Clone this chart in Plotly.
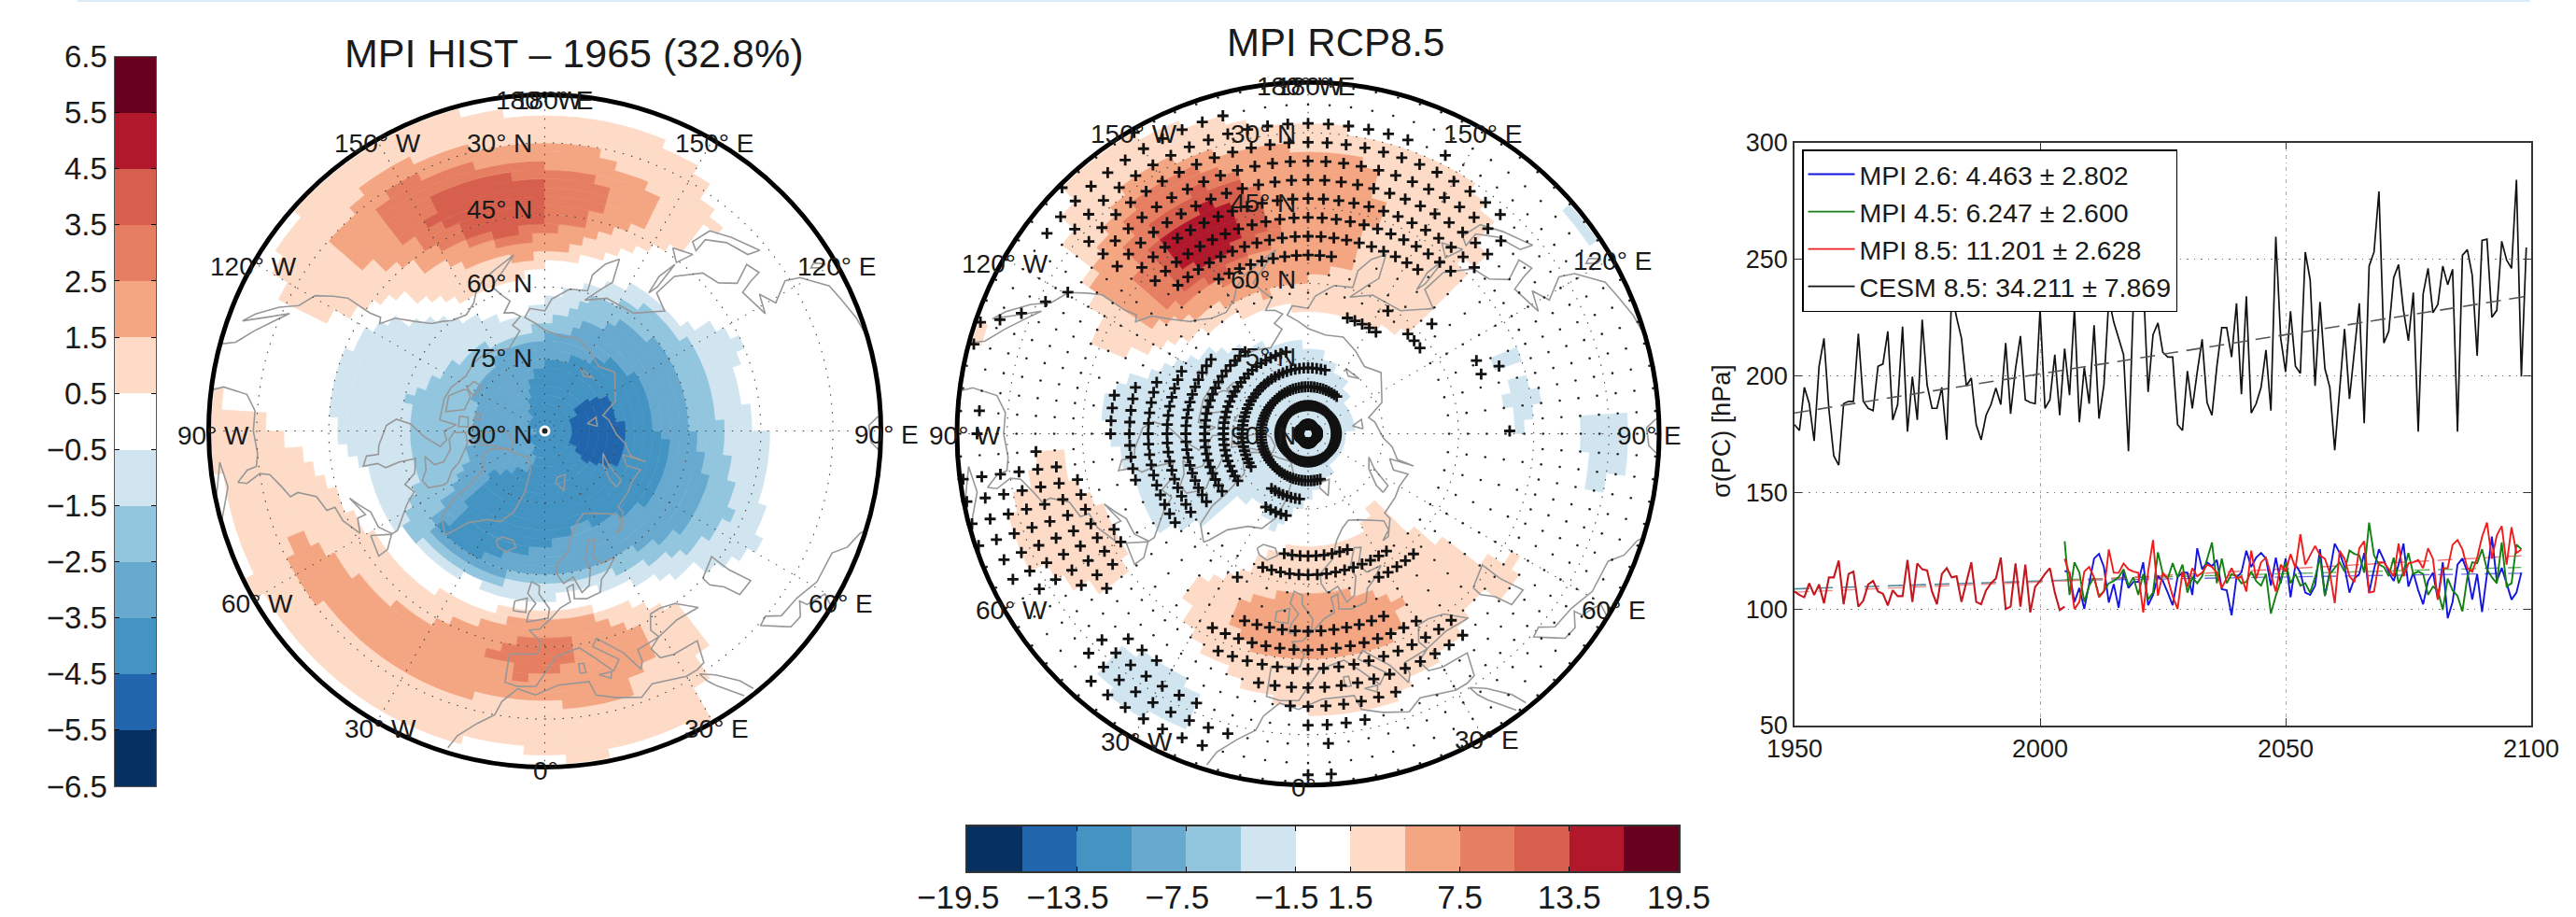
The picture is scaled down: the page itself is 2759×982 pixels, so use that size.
import numpy as np
import plotly.graph_objects as go

W, H = 2759, 982
FONT = "Liberation Sans"

# ---------- colour bands ----------
band_colors = ["#053061", "#2166ac", "#4393c3", "#67a9cf", "#92c5de", "#d1e5f0", "#ffffff",
               "#fddbc7", "#f4a582", "#e67f62", "#d6604d", "#b2182b", "#67001f"]
band_mid_left = [-6, -5, -4, -3, -2, -1, 0, 1, 2, 3, 4, 5, 6]
band_edge_left = [-6.5, -5.5, -4.5, -3.5, -2.5, -1.5, -0.5, 0.5, 1.5, 2.5, 3.5, 4.5, 5.5, 6.5]
band_mid_right = [-18, -15, -12, -9, -6, -3, 0, 3, 6, 9, 12, 15, 18]
band_tick_right = [-19.5, -13.5, -7.5, -1.5, 1.5, 7.5, 13.5, 19.5]
band_text_right = ["\u221219.5\u00a0\u00a0", "\u221213.5\u00a0\u00a0", "\u22127.5\u00a0\u00a0", "\u22121.5\u00a0\u00a0", "1.5", "7.5", "13.5", "19.5"]

# ---------- left map: contour regions as (lon, lat) ----------
h_p1_pacific = [(-121,24),(-135,20),(-150,20),(-162,21),(180,24),(162.7,24),(151,27),(143,31.7),(140,35),(144,42.5),
                (157.6,50),(180,54.7),(-166,58.7),(-149,57.8),(-132.5,49),(-123,43),(-116.4,38),(-115.6,32.5),(-118.7,26.7)]
h_p2_pacific = [(-132,31),(-143.8,26.6),(-151.4,27),(-164.3,29),(180,29.3),(171.6,29.6),(163.7,33),(155.8,35.4),(154,42),
                (165.4,48),(180,53.3),(-161.2,52.7),(-143,47.4),(-132.6,39.2)]
h_p3_pacific = [(-143.4,32),(-149.7,30.2),(-159.8,31.6),(-172.4,33.4),(173.7,35),(166.3,38),(164.8,42.7),(174,47.7),
                (-171.8,50.2),(-156.7,48),(-144,41.8),(-141,34.8)]
h_p4_pacific = [(-152.7,36),(-164.4,35),(-177.7,37),(178.2,41),(179,45.6),(-172,48.4),(-158,46),(-151.5,40)]
h_p1_atlantic = [(-93.7,20.4),(-93.8,29),(-87.6,36.2),(-71.9,45),(-53.2,48.4),(-35.8,49.2),(-19.4,51),(0,52),(22.4,50.3),
                 (38.9,43),(38.9,37),(30.2,26.6),(28,21.2),(7.3,20.6),(-6.5,24),(-17.5,23),(-29.4,23),(-40.5,23),(-49.3,23),
                 (-62,21),(-88,20)]
h_p1_corner = [(-99,20),(-99,23),(-94,23.5),(-94,20)]
h_p2_atlantic = [(-66.9,31.1),(-67.5,34.3),(-61.8,37.3),(-54.3,39.5),(-42.6,41.4),(-28.6,44),(-17,48.8),(-3,50),(15.4,50),
                 (26,43),(24.7,38.6),(18.6,34),(17.8,31.5),(9.7,32.6),(7.7,31),(3.4,33.3),(-7.6,33.4),(-19.4,32),(-36,31),
                 (-49.2,31),(-59.2,30.4)]
h_p3_atlantic = [(-16.9,40.8),(-11.9,44.9),(0,47),(9,45.3),(8.5,42.8),(4.4,40.5),(3.2,38.6),(-7.3,38.2),(-8.9,41.4)]
h_n1 = [(0,55.1),(17.8,55.3),(38.6,51.2),(52.5,44.7),(62.8,39.4),(66.4,41.4),(78.3,43),(87,43),(99.6,49.4),(111.6,47),
        (115.2,44),(122.3,48.5),(127.7,53.8),(138.8,53.3),(152,55.7),(166.7,59.7),(-177,63),(-166,66),(-147.4,62.6),
        (-132,55.5),(-122.3,48.4),(-112.2,45.7),(-101,45),(-91.8,46.2),(-80.3,49.8),(-75,53),(-61.8,52.7),(-54,54),
        (-41.7,54.2),(-28.6,55.4),(-15.4,54.8)]
h_n2 = [(0,57.8),(19.2,57.8),(37.9,55),(52.6,50.4),(65.5,47.5),(75,49.5),(90,53.1),(106.8,53.9),(121.7,54.7),(140.3,56.4),
        (159,60.4),(176,66.8),(-159,69),(-133.7,67),(-117,65.3),(-103.5,60.8),(-87,61.6),(-67,61.2),(-54.7,54.7),
        (-39.5,55.4),(-21,56.5)]
h_n3 = [(3,60),(20.4,59.6),(40.6,58.4),(54.6,54.8),(67,54),(78.6,55.6),(90.9,59.5),(104.4,59),(123.7,59.8),(141.2,61.5),
        (158.4,66.2),(180,70.5),(-150.9,70.8),(-117.5,73.3),(-81.5,74.6),(-61.4,70),(-53.7,63.2),(-48.2,58),(-32.3,57.3),
        (-15.7,59)]
h_n4 = [(-47.2,60),(-46.2,65.8),(-52.3,76),(-15,82),(-48,86.6),(-153,82.4),(-163,78.2),(174,75),(140.3,70.6),(120,67.3),
        (102.6,67),(91,67.6),(87,64),(71.7,62.6),(55,63.8),(42,66.2),(16.6,68.7),(3.8,66.8),(-10.5,63.7),(-32.7,59.3)]
h_n5 = [(95,84.8),(132,80.6),(120,75.6),(100.5,75.1),(97.6,73),(79.4,72.8),(63,74),(52.3,79),(56,82.7)]

# ---------- right map: contour regions as (lon, lat) ----------
r_p1_pacific = [(-135.9,20.6),(-141.6,20),(-149.5,21.6),(-162,24.3),(-174.6,28),(172.7,28.8),(160.8,30.5),(148.3,30.4),
                (140.5,33.6),(136,39.6),(137,44),(133.6,50.5),(133.4,55.6),(136.3,61.7),(146,64.8),(164,65),(174.5,65.4),
                (-167,64),(-147.4,62.5),(-128,59.7),(-115,51.6),(-111.6,44.4),(-118.7,42.7),(-124.4,37),(-128,29.7)]
r_p2_pacific = [(-139.7,29.4),(-146,27.7),(-156.8,29.4),(-172.4,32.4),(178.5,33),(167,35),(161.8,43.2),(165,49.6),(165.7,55),
                (179,58.7),(-165,61),(-150.6,59.8),(-131.5,55.7),(-123.7,51.5),(-124.2,44.7),(-125.7,37),(-133.5,33.4)]
r_p3_pacific = [(-141,32.7),(-146.3,30.6),(-156.6,32.2),(-165,36),(-169.6,43),(-171.7,49.7),(-165.6,52),(-158,55.2),(-143,54.8),
                (-132.8,52.5),(-132.3,45.5),(-135.8,38)]
r_p4_pacific = [(-143.9,37),(-155.7,36),(-163.3,38.4),(-168.3,43.7),(-168,49),(-159.3,53),(-147.9,53.5),(-137.6,52),(-137.9,43.6)]
r_p5_pacific = [(-145.2,40.2),(-158.2,40),(-163,45.4),(-161.7,48.5),(-155,50.5),(-146.7,49.8),(-143.3,47),(-143.3,42.5)]
r_p1_europe = [(-35.6,49),(-36,53.2),(-25.7,60),(-13.9,66),(17.6,67.3),(29,68.4),(47.4,71.4),(44.6,64.7),(50.3,57.5),(51.3,51),
               (58.5,41.6),(52.5,37.4),(47,42.3),(40.9,42.2),(37.6,38.7),(21.8,37.4),(18.3,33.4),(5,33),(-6.2,36.4),(-13.5,38),
               (-19.5,40),(-26.5,42.6),(-32.2,45)]
r_p2_europe = [(-23,49.8),(-21.6,54.6),(-3.9,58.3),(18.4,56.7),(28.6,52),(25.4,47.6),(19.5,45),(1.8,44.4),(-9.7,45),(-17.4,46.5)]
r_p1_atlantic = [(-84.4,35),(-87,39.3),(-79,42.7),(-69.6,46.2),(-55,46),(-51.8,39),(-58.4,33),(-66,28),(-71.5,27.6),(-77.6,31.3)]
r_p1_corner = [(-104,21),(-106,22.5),(-108,22),(-106,20.5)]
r_n1_arctic = [(-98.9,48.4),(-107.5,53.6),(-119.5,60.5),(-139.4,67.2),(-170.4,71.6),(175,72.6),(147.9,77),(96.5,81.3),(57,81.8),
               (13.4,80),(-5,75.6),(-21.9,69.6),(-35,73.6),(-49.7,70.5),(-49.6,62.2),(-56.8,54),(-71.9,55.3),(-86,51.5)]
r_n1_atlantic = [(-40.6,27),(-40.4,33.6),(-33,36.2),(-24,33.6),(-20.7,30),(-23.6,26),(-30.5,25),(-36.9,24.5)]
r_n1_asia_a = [(112,51.4),(112.3,44.4),(108.8,44.7),(108.5,48.4)]
r_n1_asia_b = [(102,51),(105.7,46.2),(101,42.4),(96.7,43),(94.8,46),(89,46),(89,48),(95,48),(98.9,51.4)]
r_n1_asia_c = [(92,35),(95.2,29.5),(95,26.8),(84.4,26.3),(83,30.2),(80.6,30),(79,33),(86.3,34.6)]
r_n1_pacific = [(130,22),(129,21),(123.5,21),(123.7,23)]

# ---------- right map: where the "+" significance marks sit ----------
plus_top = [(-127.8,25),(-125,20.5),(-134.8,20.6),(-150.2,20),(-161.5,23),(180,27),(165.2,27.7),(153.4,28),(142.5,31),(138.7,31),
            (134.3,34),(134.6,38),(133.9,41.6),(139,49),(154.6,53),(163.7,52.6),(180,56.4),(-164,56),(-154.3,55.8),(-145.9,53.8),
            (-133.9,48),(-131.7,42),(-129,38),(-130.4,31)]
plus_arctic = [(165,75.4),(-161,72),(-139.6,68.5),(-123.4,63.6),(-115.6,60.5),(-110.8,56.7),(-105.5,52.5),(-99,49),(-90,49),
               (-83,52.3),(-69,54.7),(-57,56),(-53,60.7),(-53,69),(-58,75.7),(-58,78),(-90,80),(-140,80),(165,79)]
plus_europe = [(-27,46.4),(-22,50.5),(-3.5,54.3),(23.8,50.5),(32.7,47),(38,43.6),(38.7,38.5),(21.5,36.6),(11,28.3),(3,28),
               (-1.2,31.7),(-6,34.6),(-11.5,38.4),(-21.2,41.6)]
plus_atlantic = [(-83,24),(-83.5,30.5),(-86.8,35.3),(-83.8,40.5),(-72,46),(-56.7,47.3),(-52.3,42),(-52.4,38),(-59.7,25.7),
                 (-64.3,21),(-73.6,20),(-82.5,20)]
plus_south = [(-45.6,25),(-45.6,31.3),(-42.3,35.7),(-30.4,35.6),(-22.9,33),(-14.9,28.8),(-14.7,24.6),(-19.5,24),(-24.4,23.5),
              (-31.4,23.3),(-37,23.2)]
plus_arc_lat = [88.125, 84.375, 80.625, 76.875, 76.875, 73.125, 65.625, 61.875, 58.125, 58.125, 65.625, 61.875]
plus_arc_from = [-180, -180, 142, 165, 325, 330, -14, -21, -28, 25, 146, 126]
plus_arc_to = [180, 180, 375, 300, 355, 345, 22, 35, -23, 42, 163, 137]
plus_single_lon = [-116.7, -120.5, -112.8, -110.3, -108.8, -105, -94, -90, 113.5, 109.5, 109, 90.8, 131.6, 147, 0, 3.9]
plus_single_lat = [31.4, 34.4, 28, 24.5, 21, 21, 24.3, 24, 53.4, 49.6, 53.5, 49.8, 57, 60.8, 22, 22]

# ---------- coastlines as (lon, lat) ----------
coast_america = [(-105,20),(-106,23),(-109,26),(-112.5,29.5),(-114.7,31.5),(-112,27),(-110,23),(-112,25),(-115,29),(-117,32.5),
                 (-120.5,34.5),(-122.5,37.8),(-124,40.5),(-124,46),(-124.7,48.4),(-123,49),(-127,51),(-130,54.5),(-133.5,57.5),
                 (-137,58.8),(-140,60),(-146,60.8),(-151,59.5),(-154,57.5),(-158,56),(-163,54.8),(-170,52.8),(-160,58),(-162,60),
                 (-165,62),(-161,64),(-165,64.5),(-168,65.6),(-163,67),(-166,68.5),(-156.5,71.3),(-148,70.3),(-140,69.6),
                 (-133,69.5),(-125,70),(-115,68.5),(-108,68),(-96,68),(-94,71.5),(-90,69),(-85,69.5),(-81.5,68),(-87,65),(-93,62),
                 (-94.5,59),(-92,57),(-85,55.3),(-82,55),(-82,52.5),(-79,51.5),(-79,54.5),(-77,56),(-78,59),(-78,62.5),(-72,61.5),
                 (-69,58.8),(-65,60),(-62,57.5),(-56,53),(-56,51.7),(-60,50),(-65,50),(-68,48.5),(-71,47),(-65,48.8),(-65,47),
                 (-61,46),(-66,44),(-70,43.5),(-70,41.7),(-74,40.5),(-76,37),(-75.5,35.3),(-78,34),(-81,32),(-81.5,30),(-80,27),
                 (-80.5,25.2),(-82.5,27.5),(-83,29.5),(-85.5,30),(-90,29.3),(-94,29.5),(-97,27.5),(-97.8,22.5),(-97,20)]
coast_baffin = [(-62,66),(-64,63),(-68,62.5),(-72,64),(-78,64.5),(-73,66),(-73,68),(-79,70),(-85,70),(-89,71),(-89,73.5),(-81,73.7),
                (-76,72.7),(-70,71),(-67,69),(-62,67),(-62,66)]
coast_victoria = [(-117,71),(-110,68.7),(-101,69),(-105,72.7),(-114,73),(-118,72),(-117,71)]
coast_banks = [(-125,72),(-119,71.5),(-116,73.5),(-125,74),(-125,72)]
coast_ellesmere = [(-90,76.5),(-78,76.3),(-75,78.5),(-68,80.5),(-62,82),(-70,83),(-85,82.5),(-92,81),(-88,78),(-90,76.5)]
coast_devon = [(-96,75),(-80,74.5),(-80,75.7),(-92,76.3),(-96,75)]
coast_bathurst = [(-105,75.5),(-100,75),(-100,76.5),(-105,76.2),(-105,75.5)]
coast_somerset = [(-100,72),(-93,72),(-93,74),(-100,73.8),(-100,72)]
coast_greenland = [(-44,60),(-50,62),(-53,66),(-54,70),(-58,75),(-68,76),(-72,78),(-65,81),(-50,82.5),(-32,83.5),(-20,81.5),(-18,76.5),
                   (-21,72),(-26,69),(-33,68),(-40,65),(-43,61),(-44,60)]
coast_iceland = [(-24,65),(-22,64),(-18,63.5),(-14,65),(-16,66.3),(-22,66.2),(-24,65)]
coast_newfoundland = [(-59,47.7),(-53,46.7),(-53,49),(-56,51.5),(-59,47.7)]
coast_cuba = [(-84.5,22),(-80,23),(-74.5,20.2),(-78,20),(-84.5,22)]
coast_britain = [(-5.5,50),(1,51),(1.5,53),(-2,56),(-2,57.7),(-5,58.5),(-6,56),(-3,54),(-5,52),(-5.5,50)]
coast_ireland = [(-10,52),(-6,52),(-6,55),(-10,54),(-10,52)]
coast_svalbard = [(12,79),(18,77),(25,80),(15,80),(12,79)]
coast_novaya = [(52,71),(57,71),(62,75),(69,77),(60,76),(53,73),(52,71)]
coast_severnaya = [(95,79),(105,79),(100,81),(95,79)]
coast_siberian = [(137,75),(150,75),(145,76),(137,75)]
coast_sakhalin = [(142,46),(143.5,50),(143,54),(142,52),(142,46)]
coast_honshu = [(130,31.5),(131,34),(136,35.5),(140,38),(140,41),(142,40),(140.5,36),(136,34),(131,32),(130,31.5)]
coast_hokkaido = [(140,42),(145,43.5),(142,45.5),(140,42)]
coast_taiwan = [(120.5,23),(121.5,25),(122,24),(120.8,22),(120.5,23)]
coast_sicily = [(12.5,38),(15.5,38),(15,36.7),(12.5,38)]
coast_sardinia = [(8.3,39),(9.7,39),(9.5,41),(8.3,41),(8.3,39)]
coast_caspian = [(47,45),(53,46.5),(53,42),(54,37),(50,37),(49,40.5),(47,43),(47,45)]
coast_redsea = [(39,21),(38,24),(35,28),(32.5,30),(33,28),(34,26),(37,21)]
coast_gulf = [(58.5,20),(59.8,22.5),(56.5,24.5),(56.3,26.2),(54,24.2),(51.5,24.5),(50.5,26),(48,29.5),(50,30),(52,27.5),(56.5,27),
              (61,25.2),(67,25),(69,22.5),(72,21),(72.8,20)]
coast_bengal = [(86.5,20),(88,22),(91,22.5),(92.5,20.5)]
coast_eurasia = [(-17,21),(-16,24),(-13,27.5),(-10,30),(-9,33),(-6,36),(-2,35),(3,37),(10,37),(11,34),(15,32.5),(20,31),(23,32.8),
                 (30,31),(32.5,31),(34.5,31.5),(36,36),(30,36.3),(27,37),(26,39.5),(29,41),(35,42),(41,41.3),(37,45),(33,46),(30,46),
                 (28,43),(29,41),(26,40.8),(23,40.5),(23,38),(22,36.5),(19.5,41),(14,45.5),(12.5,44),(18,40),(16,38),(12,42),(9,44.3),
                 (3,43),(0,39.5),(-2,36.8),(-6,36.5),(-9,37),(-9,43),(-2,43.5),(-1,46),(-4.5,48.4),(-1.5,48.7),(2,51),(5,53),(8.5,54),
                 (8,57),(10.5,57.5),(10,54.5),(14,54),(19,54.5),(21,57),(24,58),(29,60),(23,60),(21,62),(25,65),(22,65.5),(17.5,62),
                 (18.5,60),(16,56.5),(13,55.5),(11,59),(7,58),(5,60),(5,62),(11,64.5),(15,68),(20,70),(25,71),(31,70),(41,67),(40,65),
                 (35,64),(38,64),(44,66.5),(44,68),(54,68.5),(60,69),(68,68.5),(67,71.5),(73,73),(73,68),(74,71.5),(81,73),(87,75),
                 (100,76.5),(105,77.5),(113,74),(130,71),(140,72.5),(150,71),(160,69.5),(170,70),(180,69),(-175,67.5),(-170,66),
                 (-173,64.3),(-180,65),(177,62.5),(170,60),(163,59.5),(163,56),(160,53),(156.5,51),(155.5,56),(158,58),(163,61.5),
                 (155,59.5),(143,59.3),(135,54.7),(141,53),(140,48),(135,43.5),(130.5,42.5),(127.5,39.5),(129.5,35.5),(126.5,34.5),
                 (126,37),(125,39.7),(121.7,39),(118,38),(122.5,37),(119,35),(122,31),(121,28),(117,23.5),(114,22.5),(110,21),(106,20)]

# ---------- time series ----------
cesm_85 = [179,176.5,195,188,172,204,216,185.6,165.6,161.6,188,189,189,218,189,186,185,204,205,219,181,187.6,221,176,199.6,181,224,196,186,186,
           195,172.5,235.6,225,216,195.6,199,179,172.5,183,187.6,194.7,187.6,214,183.6,203,217,189.6,188.5,188,228.5,186,189.6,209,183,211.6,
           191.6,229,180,203.6,188,221.6,181.6,196,233,223,216,209,167.6,232,232,241,193,217.6,222.6,210,208,208,179,176.5,202,186,201.6,215.6,
           188.5,183,204,220.6,220.6,208,231,192,234,184,188,195,211,185,259.6,216,201.6,227.6,204,201,253,241,195.6,231.6,203,195,168,193.6,220,
           190,209.6,231,179.6,247,253,279,214,219,242,247.6,228,215,235.6,176,235,246,227,230.6,247,239,245.6,176,251.6,254,243,208.5,258,258.5,
           225,228,257.6,249.6,246,284,199.6,255]
mpi_hist = [107.5,106,105,111,106,110.5,102.4,113.5,113.5,120.7,102,115,116,101,103.5,110.5,112,107.5,106.5,101.5,108,105.5,105.5,121,103,
            119.5,117,116.5,107.5,102,115,117.5,113.5,114,103,112,120,103,102,108,111,113,122,100,101,119.5,101,119,98.5,109.5,112,115,117.5,
            107,99.5,101]
mpi_26 = [116.3,115.6,103,109,100,111.6,121.6,123.6,118,102.7,110.7,100.5,116,109,111.6,111.6,120,101.6,106,114,112,107,101.6,113.6,115.6,
          115.6,106,126,117,120,118.3,121,108.5,108,97.3,113.6,115.6,125,118,122,124,121.6,110,122,111,121.6,105,119,115.6,107,106,110,125.6,
          105.6,116,128,124,118,107,113,115,124,107,117,125.6,121,115.6,112,119,128,109.6,115.6,108,102,112,115.6,104,120,96,103,119,121.6,116,
          104,115,98.7,115,131,112,117.6,111,104,107,115.6]
mpi_45 = [129,106,120,115.6,103,110,113.6,105.6,107.6,111,112,113.6,117,110,113.6,106,115,104,107,124.3,115,113,119.6,113.6,119,107,113.6,
          111,114,121.6,128.5,111,121.6,111,115,114,111,111.6,116,112,110,115,98,105.6,112,120,111,115,110,111,107,113.6,122,105.6,115,117.6,
          120,116,125,123.6,123,115.6,137,123,119,118,114,122,111,116,124,115,116,115,106,109.6,108,99.6,113,108,105.6,99,113.6,120,119.6,
          125.6,117,113.6,111,128.5,109.6,111,127.6,125.6]
mpi_85 = [121.5,115,100,103,116,118,113.5,105,107.5,125.5,115.5,115.5,119.5,117,116,115.5,98.5,116,129.5,105.7,115.5,113,105.5,100,116,109.5,
          117.5,114,115.5,119,118,115.5,109,113.5,117.5,113,114,107.5,125,113,120,122,115,107.5,119,116,123.5,117.5,132,119,123,127,123,121.5,
          115.5,102.5,125,121.5,114,111.5,126,129,107,107.5,120,120,117,114,128,114,119.5,120,121,117.5,126,121.5,104,117.5,117.5,127.5,129.5,
          125.5,117.5,116,122,131,137,121.5,131.5,135.5,119,135,124,125.5]
trend_cesm_years = [1950, 2099]
trend_cesm = [184, 234]
trend_hist_years = [1950, 2005]
trend_hist = [108.6, 112.3]
trend_hist85 = [107.2, 112.0]
trend_scen_years = [2005, 2098]
trend_26 = [112.2, 115.3]
trend_45 = [112.6, 117.8]
trend_85 = [112.0, 122.8]
legend_26 = "MPI 2.6: 4.463 \u00b1 2.802"
legend_45 = "MPI 4.5: 6.247 \u00b1 2.600"
legend_85 = "MPI 8.5: 11.201 \u00b1 2.628"
legend_cesm = "CESM 8.5: 34.211 \u00b1 7.869"

# ---------- map text ----------
title_left = "MPI HIST \u2013 1965 (32.8%)"
title_right = "MPI RCP8.5"
lon_labels = ["180\u00b0 W", "180\u00b0 E", "150\u00b0 W", "150\u00b0 E", "120\u00b0 W", "120\u00b0 E", "90\u00b0 W", "90\u00b0 E",
              "60\u00b0 W", "60\u00b0 E", "30\u00b0 W", "30\u00b0 E", "0\u00b0"]
lat_labels = ["30\u00b0 N", "45\u00b0 N", "60\u00b0 N", "75\u00b0 N", "90\u00b0 N"]


def paper(px, py):
    return px / W, 1 - py / H


def to_plane(lon, lat):
    colat, rad = 90 - np.asarray(lat, float), np.radians(lon)
    return colat * np.sin(rad), colat * np.cos(rad)


def contains(lon, lat, poly):
    px, py = to_plane([p[0] for p in poly], [p[1] for p in poly])
    x, y = to_plane(lon, lat)
    out = np.zeros(x.shape, bool)
    j = len(px) - 1
    for i in range(len(px)):
        with np.errstate(divide="ignore", invalid="ignore"):
            cross = ((py[i] > y) != (py[j] > y)) & (x < (px[j] - px[i]) * (y - py[i]) / (py[j] - py[i]) + px[i])
        out ^= cross
        j = i
    return out


DLAT, DLON = 1.875, 3.75
cell_colat = np.arange(DLAT / 2, 70, DLAT)
cell_lon = np.arange(-180 + DLON / 2, 180, DLON)


def field_trace(regions, subplot):
    lon_g, colat_g = np.meshgrid(cell_lon, cell_colat)
    field = np.zeros(lon_g.shape, int)
    for level, poly in regions:
        field[contains(lon_g, 90 - colat_g, poly)] = level
    r, base, theta, width, color = [], [], [], [], []
    for i, col in enumerate(cell_colat):
        row = field[i]
        start = 0
        for k in range(1, len(row) + 1):
            if k == len(row) or row[k] != row[start]:
                if row[start] != 0:
                    r.append(DLAT)
                    base.append(col - DLAT / 2)
                    theta.append(float((cell_lon[start] + cell_lon[k - 1]) / 2))
                    width.append((k - start) * DLON)
                    color.append(band_colors[row[start] + 6])
                start = k
    return go.Barpolar(r=r, base=base, theta=theta, width=width, subplot=subplot, hoverinfo="skip", showlegend=False,
                       marker=dict(color=color, line=dict(color=color, width=0.6)))


def joined(segments):
    lon, colat = [], []
    for seg in segments:
        lon += [p[0] for p in seg] + [None]
        colat += [90 - p[1] for p in seg] + [None]
    return lon, colat


all_coasts = [coast_america, coast_baffin, coast_victoria, coast_banks, coast_ellesmere, coast_devon, coast_bathurst, coast_somerset,
              coast_greenland, coast_iceland, coast_newfoundland, coast_cuba, coast_britain, coast_ireland, coast_svalbard, coast_novaya,
              coast_severnaya, coast_siberian, coast_sakhalin, coast_honshu, coast_hokkaido, coast_taiwan, coast_sicily, coast_sardinia,
              coast_caspian, coast_redsea, coast_gulf, coast_bengal, coast_eurasia]


def base_layers(subplot):
    out = []
    lon, colat = joined(all_coasts)
    out.append(go.Scatterpolar(r=colat, theta=lon, mode="lines", subplot=subplot, hoverinfo="skip", showlegend=False,
                               line=dict(color="#979797", width=1.6)))
    ring_lon = list(np.arange(0, 361, 2.0))
    gr, gt = [], []
    for lat in [30, 45, 60, 75]:
        gr += [90 - lat] * len(ring_lon) + [None]
        gt += ring_lon + [None]
    for lon_m in range(0, 360, 30):
        gr += [2, 70, None]
        gt += [lon_m, lon_m, None]
    out.append(go.Scatterpolar(r=gr, theta=gt, mode="lines", subplot=subplot, hoverinfo="skip", showlegend=False,
                               line=dict(color="#444444", width=1.1, dash="1.5px,8px")))
    return out


fig = go.Figure()

# left map
fig.add_trace(field_trace([(1, h_p1_pacific), (2, h_p2_pacific), (3, h_p3_pacific), (4, h_p4_pacific), (1, h_p1_atlantic), (1, h_p1_corner),
                           (2, h_p2_atlantic), (3, h_p3_atlantic), (-1, h_n1), (-2, h_n2), (-3, h_n3), (-4, h_n4), (-5, h_n5)], "polar"))
for t in base_layers("polar"):
    fig.add_trace(t)
fig.add_trace(go.Scatterpolar(r=[0], theta=[0], mode="markers", subplot="polar", hoverinfo="skip", showlegend=False,
                              marker=dict(size=9, color="#222222", line=dict(color="white", width=3))))

# right map
fig.add_trace(field_trace([(1, r_p1_pacific), (2, r_p2_pacific), (3, r_p3_pacific), (4, r_p4_pacific), (5, r_p5_pacific), (1, r_p1_europe),
                           (2, r_p2_europe), (1, r_p1_atlantic), (1, r_p1_corner), (-1, r_n1_arctic), (-1, r_n1_atlantic), (-1, r_n1_asia_a),
                           (-1, r_n1_asia_b), (-1, r_n1_asia_c), (-1, r_n1_pacific)], "polar2"))
for t in base_layers("polar2"):
    fig.add_trace(t)

grid_lat = 88.125 - 3.75 * np.arange(19)
grid_lon = -180 + 3.75 * np.arange(96)
g_lon, g_lat = np.meshgrid(grid_lon, grid_lat)
g_lon, g_lat = g_lon.ravel(), g_lat.ravel()
is_plus = np.zeros(g_lon.shape, bool)
for poly in [plus_top, plus_arctic, plus_europe, plus_atlantic, plus_south]:
    is_plus |= contains(g_lon, g_lat, poly)
for la, a, b in zip(plus_arc_lat, plus_arc_from, plus_arc_to):
    l2 = ((g_lon - a) % 360) <= (b - a)
    is_plus |= (g_lat == la) & l2
is_dot = (~is_plus) & (g_lat < 62) & ((g_lat < 46) | (np.round(g_lon / 3.75).astype(int) % 2 == 0))
fig.add_trace(go.Scatterpolar(r=90 - g_lat[is_dot], theta=g_lon[is_dot], mode="markers", subplot="polar2", hoverinfo="skip", showlegend=False,
                              marker=dict(size=2.6, color="#222222")))
fig.add_trace(go.Scatterpolar(r=list(90 - g_lat[is_plus]) + [90 - v for v in plus_single_lat], theta=list(g_lon[is_plus]) + plus_single_lon,
                              mode="markers", subplot="polar2", hoverinfo="skip", showlegend=False,
                              marker=dict(symbol="cross-thin", size=8.5, line=dict(color="#111111", width=2.8))))

# colour bars
scale = []
for i, c in enumerate(band_colors):
    scale += [[i / 13, c], [(i + 1) / 13, c]]
fig.add_trace(go.Heatmap(z=[[v] for v in band_mid_left], x=[0], y=band_mid_left, xaxis="x", yaxis="y", colorscale=scale,
                         zmin=-6.5, zmax=6.5, showscale=False, hoverinfo="skip"))
fig.add_trace(go.Heatmap(z=[band_mid_right], x=band_mid_right, y=[0], xaxis="x2", yaxis="y2", colorscale=scale,
                         zmin=-19.5, zmax=19.5, showscale=False, hoverinfo="skip"))


# time series
def years(start, values):
    return list(range(start, start + len(values)))


dash = "16px,9px"
ts = dict(xaxis="x3", yaxis="y3", hoverinfo="skip")
fig.add_trace(go.Scatter(x=trend_hist_years, y=trend_hist, mode="lines", showlegend=False, line=dict(color="#4f8a9c", width=1.6, dash=dash), **ts))
fig.add_trace(go.Scatter(x=trend_hist_years, y=trend_hist85, mode="lines", showlegend=False, line=dict(color="#f08a8a", width=1.3, dash=dash), **ts))
for vals, col in [(trend_26, "#6b6be8"), (trend_45, "#5fae5f"), (trend_85, "#ee6b6b")]:
    fig.add_trace(go.Scatter(x=trend_scen_years, y=vals, mode="lines", showlegend=False, line=dict(color=col, width=1.3, dash=dash), **ts))
fig.add_trace(go.Scatter(x=years(2005, mpi_26), y=mpi_26, mode="lines", name=legend_26, legendgroup="a", line=dict(color="#1414e0", width=1.9), **ts))
fig.add_trace(go.Scatter(x=years(2005, mpi_45), y=mpi_45, mode="lines", name=legend_45, legendgroup="b", line=dict(color="#128012", width=1.9), **ts))
fig.add_trace(go.Scatter(x=years(2005, mpi_85), y=mpi_85, mode="lines", name=legend_85, legendgroup="c", line=dict(color="#f01c1c", width=1.9), **ts))
fig.add_trace(go.Scatter(x=years(1950, mpi_hist), y=mpi_hist, mode="lines", showlegend=False, line=dict(color="#c5171f", width=2.1), **ts))
fig.add_trace(go.Scatter(x=years(1950, cesm_85), y=cesm_85, mode="lines", name=legend_cesm, legendgroup="d", line=dict(color="#111111", width=1.7), **ts))
fig.add_trace(go.Scatter(x=trend_cesm_years, y=trend_cesm, mode="lines", showlegend=False, line=dict(color="#555555", width=1.6, dash=dash), **ts))

polar_common = dict(
    bgcolor="rgba(0,0,0,0)", bargap=0, barmode="overlay",
    radialaxis=dict(range=[0, 70], visible=False),
    angularaxis=dict(rotation=270, direction="counterclockwise", showticklabels=False, ticks="", showgrid=False,
                     linecolor="black", linewidth=5),
)


def polar_domain(cx, cy, rad):
    return dict(x=[(cx - rad) / W, (cx + rad) / W], y=[1 - (cy + rad) / H, 1 - (cy - rad) / H])


notes = []


def note(text, px, py, size):
    x, y = paper(px, py)
    notes.append(dict(text=text, x=x, y=y, xref="paper", yref="paper", showarrow=False, xanchor="center", yanchor="middle",
                      font=dict(family=FONT, size=size, color="#1a1a1a")))


note(title_left, 615, 57, 43)
note(title_right, 1430, 45, 42)
left_lon_pos = [(577, 107), (593, 107), (404, 154), (765, 154), (271, 285), (896, 285), (228, 466), (949, 465), (275, 646), (900, 646), (407, 780), (767, 780), (584, 825)]
right_lon_pos = [(1393, 92), (1409, 92), (1214, 143), (1588, 143), (1076, 282), (1727, 279), (1033, 466), (1766, 466), (1083, 653), (1729, 653), (1217, 794), (1593, 792), (1396, 843)]
left_lat_pos = [(535, 154), (535, 224), (535, 303), (535, 383), (535, 465)]
right_lat_pos = [(1353, 143), (1353, 217), (1353, 299), (1353, 382), (1353, 466)]
for txt, p in zip(lon_labels, left_lon_pos):
    note(txt, p[0], p[1], 28)
for txt, p in zip(lat_labels, left_lat_pos):
    note(txt, p[0], p[1], 28)
for txt, p in zip(lon_labels, right_lon_pos):
    note(txt, p[0], p[1], 28)
for txt, p in zip(lat_labels, right_lat_pos):
    note(txt, p[0], p[1], 28)
ylab = paper(1844, 462)
notes.append(dict(text="\u03c3(PC) [hPa]", x=ylab[0], y=ylab[1], xref="paper", yref="paper", showarrow=False, textangle=-90,
                  xanchor="center", yanchor="middle", font=dict(family=FONT, size=27, color="#1a1a1a")))

leg_x, leg_y = paper(1930, 160)
fig.update_layout(
    width=W, height=H, margin=dict(l=0, r=0, t=0, b=0, autoexpand=False), autosize=False,
    paper_bgcolor="white", plot_bgcolor="white", font=dict(family=FONT, color="#1a1a1a"),
    annotations=notes,
    polar=dict(domain=polar_domain(583.5, 461.5, 360), **polar_common),
    polar2=dict(domain=polar_domain(1401, 464.5, 376), **polar_common),
    xaxis=dict(domain=[122.5 / W, 167 / W], range=[-0.5, 0.5], showticklabels=False, ticks="", showgrid=False, zeroline=False,
               showline=True, linecolor="#555555", linewidth=1, mirror=True, anchor="y"),
    yaxis=dict(domain=[1 - 842 / H, 1 - 60.5 / H], range=[-6.5, 6.5], tickvals=band_edge_left, tickformat=".1f", ticks="inside", ticklen=5,
               tickcolor="black", showgrid=False, zeroline=False, tickfont=dict(size=33), showline=True, linecolor="#555555", linewidth=1,
               mirror="ticks", anchor="x"),
    xaxis2=dict(domain=[1036 / W, 1798 / W], range=[-19.5, 19.5], tickvals=band_tick_right, ticktext=band_text_right, ticks="inside",
                tickangle=0, ticklen=5, tickcolor="black", showgrid=False, zeroline=False, tickfont=dict(size=35), ticklabelstandoff=-4,
                showline=True, linecolor="#333333", linewidth=1.5, mirror="ticks", anchor="y2"),
    yaxis2=dict(domain=[1 - 933 / H, 1 - 885 / H], range=[-0.5, 0.5], showticklabels=False, ticks="", showgrid=False, zeroline=False,
                showline=True, linecolor="#333333", linewidth=1.5, mirror=True, anchor="x2"),
    xaxis3=dict(domain=[1922 / W, 2711 / W], range=[1950, 2100], tickvals=[1950, 2000, 2050, 2100], ticks="inside", ticklen=8,
                tickcolor="#333333", showgrid=True, gridcolor="#aaaaaa", griddash="4px,4px,1px,4px", gridwidth=1, zeroline=False,
                tickfont=dict(size=27), showline=True, linecolor="#333333", linewidth=1.5, mirror="ticks", anchor="y3"),
    yaxis3=dict(domain=[1 - 777 / H, 1 - 152.5 / H], range=[50, 300], tickvals=[50, 100, 150, 200, 250, 300], ticks="inside", ticklen=8,
                tickcolor="#333333", showgrid=True, gridcolor="#777777", griddash="1.5px,6px", gridwidth=1, zeroline=False,
                tickfont=dict(size=27), showline=True, linecolor="#333333", linewidth=1.5, mirror="ticks", anchor="x3"),
    legend=dict(x=leg_x, y=leg_y, xanchor="left", yanchor="top", xref="paper", yref="paper", bgcolor="white", bordercolor="black",
                borderwidth=1.5, font=dict(family=FONT, size=28.5, color="#1a1a1a"), itemwidth=50, tracegroupgap=0, traceorder="normal"),
    shapes=[dict(type="line", xref="paper", yref="paper", x0=83 / W, x1=2710 / W, y0=1 - 1 / H, y1=1 - 1 / H,
                 line=dict(color="#dbeaf7", width=2))],
)

fig.write_html("out.html", config={"displayModeBar": False},
               post_script="document.body.style.margin='0';document.body.style.overflow='hidden';")
